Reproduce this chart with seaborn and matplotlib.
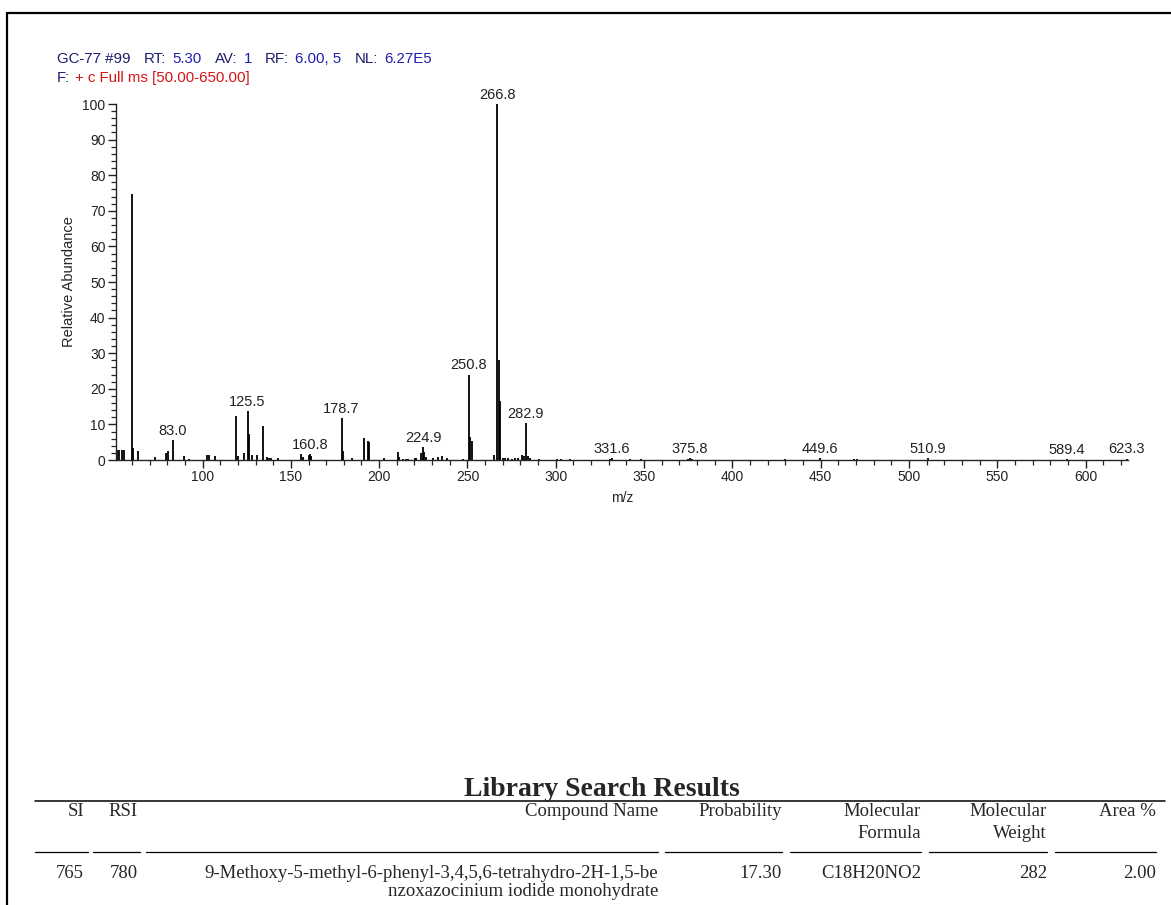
import matplotlib
matplotlib.use("Agg")
import matplotlib.pyplot as plt
import seaborn as sns
from matplotlib.lines import Line2D
from matplotlib.ticker import MultipleLocator

sns.set_style("ticks")
plt.rcParams['font.family'] = ['Liberation Sans', 'DejaVu Sans']

# --- spectrum (m/z, relative abundance) ---
mz = [51.5, 52.9, 54.2, 55.6, 59.9, 60.6, 63.7, 73.3, 79.5, 80.2,
      83.0, 89.6, 92.4, 102.5, 103.6, 107.2, 119.1, 120.1, 123.2, 125.5,
      126.3, 128.2, 130.8, 134.2, 136.5, 137.6, 138.9, 142.5, 155.5, 156.6,
      160.2, 160.8, 161.5, 178.7, 179.6, 184.9, 191.3, 193.7, 194.5, 202.8,
      210.8, 211.3, 213.3, 215.0, 216.4, 220.2, 220.8, 223.6, 224.9, 225.6,
      226.5, 230.6, 233.4, 235.3, 238.2, 247.6, 250.8, 251.5, 252.3, 265.1,
      266.8, 267.6, 268.3, 270.0, 271.5, 273.0, 275.0, 277.0, 278.5, 280.9,
      282.2, 282.9, 284.0, 285.5, 290.3, 300.5, 303.0, 308.0, 330.6, 331.6,
      342.0, 348.5, 374.6, 375.8, 377.0, 429.8, 449.6, 469.0, 470.3, 510.9,
      589.4, 623.3]
abundance = [2.8, 2.9, 2.9, 2.8, 74.8, 3.5, 2.6, 0.9, 2.0, 2.6,
             5.5, 1.0, 0.3, 1.5, 1.5, 1.0, 12.3, 1.0, 2.0, 13.7,
             7.2, 1.5, 1.3, 9.5, 0.8, 0.6, 0.5, 0.6, 1.7, 0.9,
             1.4, 1.7, 1.1, 11.9, 2.6, 0.6, 6.2, 5.4, 5.1, 0.6,
             2.3, 0.9, 0.4, 0.4, 0.4, 0.5, 0.6, 2.0, 3.7, 2.3,
             0.9, 0.5, 0.9, 1.2, 0.7, 0.2, 24.0, 6.4, 5.3, 1.4,
             100.0, 28.0, 16.5, 0.7, 0.5, 0.5, 0.4, 0.5, 0.6, 1.4,
             1.1, 10.3, 1.2, 0.7, 0.4, 0.3, 0.3, 0.2, 0.3, 0.5,
             0.2, 0.3, 0.4, 0.5, 0.4, 0.4, 0.5, 0.4, 0.3, 0.5,
             0.3, 0.4]
labelled = [83.0, 125.5, 160.8, 178.7, 224.9, 250.8, 266.8, 282.9,
            331.6, 375.8, 449.6, 510.9, 589.4, 623.3]

# --- header text ---
scan_name = "GC-77 #99"
header_keys = ["RT:", "AV:", "RF:", "NL:"]
header_vals = ["5.30", "1", "6.00, 5", "6.27E5"]
filter_key = "F:"
filter_text = "+ c Full ms [50.00-650.00]"

# --- library search table ---
table_title = "Library Search Results"
table_headers = ["SI", "RSI", "Compound Name", "Probability",
                 "Molecular\nFormula", "Molecular\nWeight", "Area %"]
table_row = ["765", "780",
             "9-Methoxy-5-methyl-6-phenyl-3,4,5,6-tetrahydro-2H-1,5-be\nnzoxazocinium iodide monohydrate",
             "17.30", "C18H20NO2", "282", "2.00"]

W, H = 1171, 905
def px(x):
    return x / W
def py(y):
    return 1 - y / H

fig = plt.figure(figsize=(W / 100, H / 100), dpi=100)
fig.patch.set_facecolor("white")

# page frame (left + top)
fig.add_artist(Line2D([px(7), px(7)], [py(13), 0], color="black", lw=1.6))
fig.add_artist(Line2D([px(7), 1], [py(13), py(13)], color="black", lw=1.6))

# --- spectrum axes ---
ax = fig.add_axes([px(116), py(460), (1128 - 116) / W, (460 - 104) / H])
ax.vlines(mz, 0, abundance, color="black", lw=1.3)
for m in labelled:
    a = abundance[mz.index(m)]
    ax.annotate(f"{m:.1f}", xy=(m, a), xytext=(0, 1.5), textcoords="offset points",
                ha="center", va="bottom", fontsize=10.5, color="#222222",
                annotation_clip=False)

ax.set_xlim(51, 624)
ax.set_ylim(0, 100)
ax.xaxis.set_major_locator(MultipleLocator(50))
ax.xaxis.set_minor_locator(MultipleLocator(10))
ax.yaxis.set_major_locator(MultipleLocator(10))
ax.yaxis.set_minor_locator(MultipleLocator(2))
ax.tick_params(axis="both", which="major", direction="out", length=6, width=1.0,
               labelsize=10, pad=1.5, colors="#222222")
ax.tick_params(axis="both", which="minor", direction="out", length=3.5, width=0.9)
ax.set_xlabel("m/z", fontsize=10, labelpad=5)
ax.set_ylabel("Relative Abundance", fontsize=10.5, labelpad=5)
sns.despine(ax=ax)
for s in ["left", "bottom"]:
    ax.spines[s].set_linewidth(1.0)
ax.set_facecolor("white")

# --- header lines, pieces chained left to right ---
navy = "#1d1d6b"
blue = "#2020b0"
red = "#d41414"
hfs = 10.8
prev = fig.text(px(57), py(66), scan_name, fontsize=hfs, color=navy, va="bottom")
for k, v in zip(header_keys, header_vals):
    kt = fig.add_artist(plt.Annotation(k, xy=(1, 0), xycoords=prev, xytext=(9.5, 0),
                                       textcoords="offset points", fontsize=hfs,
                                       color=navy, va="bottom"))
    prev = fig.add_artist(plt.Annotation(v, xy=(1, 0), xycoords=kt, xytext=(4.5, 0),
                                         textcoords="offset points", fontsize=hfs,
                                         color=blue, va="bottom"))
ft = fig.text(px(57), py(85), filter_key, fontsize=hfs, color=navy, va="bottom")
fig.add_artist(plt.Annotation(filter_text, xy=(1, 0), xycoords=ft, xytext=(3.5, 0),
                              textcoords="offset points", fontsize=hfs, color=red,
                              va="bottom"))

# --- table ---
serif = ["Liberation Serif", "DejaVu Serif"]
fig.text(px(602), py(789), table_title, family=serif, fontsize=20,
         fontweight="bold", ha="center", va="center")
fig.add_artist(Line2D([px(35), px(1165)], [py(801), py(801)], color="black", lw=1.1))

col_right = [84, 138, 658, 782, 921, 1047, 1156]
rules = [(35, 88), (93, 140), (146, 658), (665, 782), (790, 921), (929, 1047), (1055, 1156)]
for x, h in zip(col_right, table_headers):
    fig.text(px(x), py(803), h, family=serif, fontsize=13.5, ha="right", va="top",
             multialignment="right", linespacing=1.35)
for x0, x1 in rules:
    fig.add_artist(Line2D([px(x0), px(x1)], [py(852), py(852)], color="black", lw=0.9))
for x, v in zip(col_right, table_row):
    fig.text(px(x), py(865), v, family=serif, fontsize=13.5, ha="right", va="top",
             multialignment="right", linespacing=1.05)

fig.savefig("out.png", dpi=100)
